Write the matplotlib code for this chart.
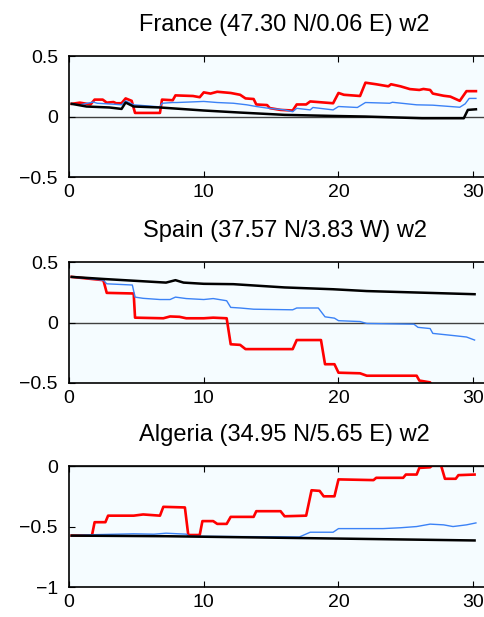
import matplotlib
matplotlib.use('Agg')
import matplotlib.pyplot as plt

plt.rcParams['font.family'] = ['Liberation Sans', 'DejaVu Sans']

titles = ['France (47.30 N/0.06 E) w2',
          'Spain (37.57 N/3.83 W) w2',
          'Algeria (34.95 N/5.65 E) w2']

# France
fr_red_x = [0.2, 0.8, 1.6, 1.9, 2.5, 2.8, 3.3, 3.5, 3.9, 4.2, 4.65, 4.9, 6.75, 6.9, 7.7, 7.9,
            9.2, 9.7, 10.0, 10.5, 11.0, 12.0, 12.7, 13.1, 13.7, 13.9, 14.7, 14.9, 15.7, 16.6,
            16.9, 17.6, 17.9, 19.6, 20.0, 20.4, 21.6, 22.0, 22.8, 23.7, 23.9, 24.6, 25.3, 26.0,
            26.3, 26.8, 27.0, 27.8, 28.3, 29.0, 29.5, 30.2]
fr_red_y = [0.105, 0.115, 0.10, 0.14, 0.14, 0.115, 0.12, 0.11, 0.11, 0.15, 0.13, 0.03, 0.03, 0.14,
            0.135, 0.175, 0.17, 0.16, 0.20, 0.19, 0.205, 0.195, 0.18, 0.15, 0.145, 0.10, 0.095,
            0.07, 0.055, 0.05, 0.10, 0.10, 0.125, 0.11, 0.195, 0.18, 0.17, 0.28, 0.267, 0.25,
            0.267, 0.25, 0.227, 0.22, 0.228, 0.22, 0.19, 0.172, 0.165, 0.13, 0.21, 0.21]
fr_blue_x = [0.2, 0.8, 1.8, 2.1, 3.3, 3.9, 4.2, 4.8, 6.75, 6.9, 7.7, 8.0, 10.0, 11.0, 12.2, 13.2,
             13.9, 14.7, 16.0, 16.6, 16.9, 17.9, 18.1, 19.6, 20.0, 21.4, 22.0, 23.8, 24.0, 25.8,
             27.0, 29.0, 29.4, 29.7, 30.2]
fr_blue_y = [0.105, 0.097, 0.12, 0.11, 0.102, 0.097, 0.13, 0.097, 0.08, 0.11, 0.116, 0.116, 0.125,
             0.116, 0.11, 0.097, 0.083, 0.07, 0.055, 0.04, 0.068, 0.055, 0.075, 0.055, 0.083,
             0.075, 0.116, 0.11, 0.118, 0.097, 0.094, 0.077, 0.105, 0.15, 0.15]
fr_black_x = [0.2, 1.3, 3.0, 3.9, 4.2, 4.8, 6.75, 10.0, 12.7, 16.0, 19.6, 22.0, 26.2, 29.3, 29.6, 30.2]
fr_black_y = [0.105, 0.083, 0.075, 0.063, 0.116, 0.083, 0.075, 0.05, 0.033, 0.014, 0.005, 0.0,
              -0.014, -0.014, 0.055, 0.06]

# Spain
es_red_x = [0.2, 2.55, 2.8, 4.8, 4.9, 7.0, 7.5, 8.2, 8.7, 10.0, 10.7, 11.7, 12.0, 12.7, 13.1,
            16.6, 16.9, 18.7, 19.0, 19.7, 20.0, 21.6, 22.1, 25.8, 26.0, 26.8, 27.0, 28.5, 30.2]
es_red_y = [0.377, 0.35, 0.245, 0.24, 0.04, 0.035, 0.05, 0.047, 0.035, 0.035, 0.04, 0.035, -0.18,
            -0.185, -0.22, -0.22, -0.145, -0.145, -0.345, -0.345, -0.415, -0.42, -0.44, -0.44,
            -0.48, -0.495, -0.55, -0.56, -0.6]
es_blue_x = [0.2, 2.55, 2.8, 4.7, 4.9, 5.5, 6.75, 7.5, 7.9, 8.7, 10.0, 10.7, 11.7, 12.0, 12.7,
             13.7, 16.6, 16.9, 18.5, 19.0, 19.7, 20.0, 21.6, 22.1, 25.6, 25.9, 26.8, 27.0, 28.7,
             29.5, 30.1]
es_blue_y = [0.377, 0.35, 0.32, 0.31, 0.21, 0.2, 0.19, 0.19, 0.21, 0.198, 0.19, 0.198, 0.18,
             0.125, 0.12, 0.11, 0.105, 0.12, 0.12, 0.047, 0.036, 0.015, 0.008, -0.008, -0.014,
             -0.04, -0.05, -0.09, -0.11, -0.12, -0.145]
es_black_x = [0.2, 2.55, 7.2, 7.9, 8.5, 10.0, 12.2, 16.0, 19.6, 22.1, 25.8, 30.1]
es_black_y = [0.377, 0.36, 0.33, 0.35, 0.33, 0.32, 0.317, 0.29, 0.275, 0.26, 0.248, 0.234]

# Algeria
dz_red_x = [0.2, 1.7, 1.9, 2.7, 2.9, 4.8, 5.5, 6.75, 7.0, 8.6, 8.85, 9.7, 9.9, 10.7, 11.0, 11.7,
            12.0, 13.7, 13.9, 15.7, 16.0, 17.6, 18.0, 18.6, 18.9, 19.7, 20.0, 22.6, 22.8, 24.8,
            25.0, 25.8, 26.0, 26.8, 27.0, 27.6, 27.9, 28.7, 28.9, 30.1]
dz_red_y = [-0.575, -0.575, -0.464, -0.464, -0.41, -0.41, -0.40, -0.41, -0.337, -0.342, -0.57,
            -0.57, -0.455, -0.455, -0.478, -0.478, -0.42, -0.42, -0.373, -0.373, -0.415, -0.41,
            -0.2, -0.205, -0.25, -0.25, -0.11, -0.116, -0.097, -0.097, -0.07, -0.07, -0.015,
            -0.01, 0.01, 0.01, -0.105, -0.105, -0.075, -0.07]
dz_blue_x = [0.2, 2.0, 4.8, 6.3, 7.2, 8.7, 8.9, 17.1, 17.9, 19.6, 20.0, 23.3, 24.6, 25.8, 26.8,
             27.8, 28.5, 29.5, 30.2]
dz_blue_y = [-0.575, -0.567, -0.56, -0.563, -0.555, -0.563, -0.58, -0.586, -0.547, -0.547,
             -0.517, -0.517, -0.51, -0.5, -0.48, -0.486, -0.5, -0.486, -0.47]
dz_black_x = [0.2, 7.2, 17.1, 30.1]
dz_black_y = [-0.575, -0.58, -0.595, -0.615]

yticks = [[-0.5, 0, 0.5], [-0.5, 0, 0.5], [-1, -0.5, 0]]
ytick_labels = [['\u22120.5', '0', '0.5'], ['\u22120.5', '0', '0.5'], ['\u22121', '\u22120.5', '0']]
ylims = [(-0.5, 0.5), (-0.5, 0.5), (-1, 0)]

series = [
    (fr_red_x, fr_red_y, fr_blue_x, fr_blue_y, fr_black_x, fr_black_y),
    (es_red_x, es_red_y, es_blue_x, es_blue_y, es_black_x, es_black_y),
    (dz_red_x, dz_red_y, dz_blue_x, dz_blue_y, dz_black_x, dz_black_y),
]

fig = plt.figure(figsize=(4.85, 6.17), dpi=100)
bottoms = [0.7131, 0.3793, 0.0486]

for i in range(3):
    ax = fig.add_axes([0.1423, bottoms[i], 0.889, 0.196])
    ax.set_facecolor('#f5fcff')
    rx, ry, bx, by, kx, ky = series[i]
    ax.axhline(0, color='#404040', lw=1.0, zorder=1)
    ax.plot(rx, ry, color='#ff0000', lw=1.9, zorder=2)
    ax.plot(bx, by, color='#3b82f6', lw=1.0, zorder=3)
    ax.plot(kx, ky, color='black', lw=1.8, zorder=4)
    ax.set_xlim(0, 32)
    ax.set_ylim(*ylims[i])
    ax.set_xticks([0, 10, 20, 30])
    ax.set_yticks(yticks[i])
    ax.set_yticklabels(ytick_labels[i])
    ax.tick_params(direction='in', top=True, right=True, length=4, width=0.8,
                   labelsize=14, colors='black')
    ax.tick_params(axis='x', pad=5)
    ax.tick_params(axis='y', pad=8)
    for s in ax.spines.values():
        s.set_linewidth(1.2)
    ax.set_title(titles[i], fontsize=17, pad=18)

fig.savefig('out.png', dpi=100)
